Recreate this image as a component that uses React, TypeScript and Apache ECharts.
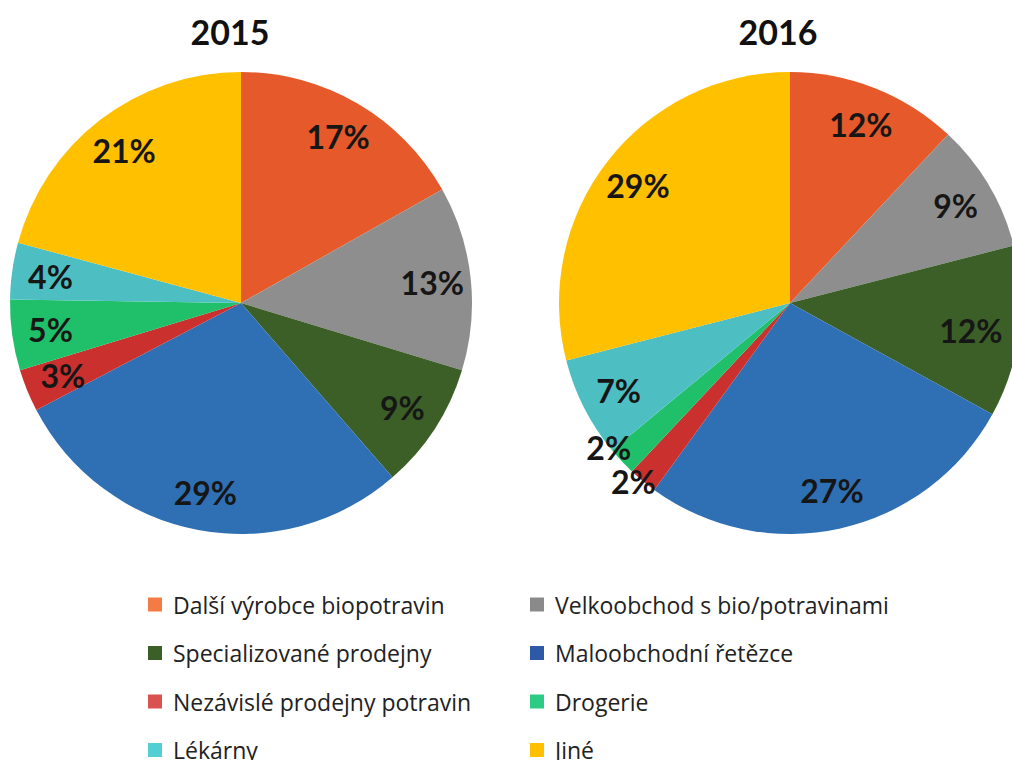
import React, { useEffect, useRef } from "react";
import * as echarts from "echarts";

const categories = [
  "Další výrobce biopotravin",
  "Velkoobchod s bio/potravinami",
  "Specializované prodejny",
  "Maloobchodní řetězce",
  "Nezávislé prodejny potravin",
  "Drogerie",
  "Lékárny",
  "Jiné",
];
const values2015 = [17, 13, 9, 29, 3, 5, 4, 21];
const values2016 = [12, 9, 12, 27, 2, 2, 7, 29];
const sliceColors = ["#E5592A", "#8E8E8E", "#3B5F27", "#2F70B5", "#C9302E", "#20C06A", "#4DBFC3", "#FFC000"];
const legendColors = ["#F47B45", "#8A8A8A", "#3B5F27", "#2E59A6", "#D9524F", "#2DCB83", "#52CFD3", "#FFC000"];
const leftLegendOrder = [0, 2, 4, 6];
const rightLegendOrder = [1, 3, 5, 7];

const R = 231;
const labelFont = { fontFamily: "Lato", fontWeight: "bold" as const, fontSize: 32, color: "#161616" };

function makeSeries(values: number[], center: [number, number], offsets: Record<number, [number, number]>) {
  const wedge = {
    type: "pie",
    center,
    radius: [0, R],
    startAngle: 90,
    clockwise: true,
    silent: true,
    label: { show: false },
    labelLine: { show: false },
    data: values.map((v, i) => ({ name: categories[i], value: v, itemStyle: { color: sliceColors[i] } })),
  };
  const labels = {
    type: "pie",
    center,
    radius: [R * 0.64, R],
    startAngle: 90,
    clockwise: true,
    silent: true,
    avoidLabelOverlap: false,
    labelLayout: { hideOverlap: false },
    itemStyle: { color: "rgba(0,0,0,0)" },
    label: { show: true, position: "inside", formatter: (p: any) => p.value + "%", ...labelFont },
    labelLine: { show: false },
    data: values.map((v, i) => ({
      name: categories[i],
      value: v,
      itemStyle: { color: "rgba(0,0,0,0)" },
      label: offsets[i] ? { offset: offsets[i] } : {},
    })),
  };
  return [wedge, labels];
}

export default function App() {
  const ref = useRef<HTMLDivElement>(null);
  useEffect(() => {
    document.body.style.margin = "0";
    const chart = echarts.init(ref.current!, null, { renderer: "svg" });
    const legendBase = {
      orient: "vertical",
      itemWidth: 14,
      itemHeight: 14,
      itemGap: 25.5,
      padding: 0,
      height: 200,
      icon: "rect",
      selectedMode: false,
      textStyle: { fontFamily: "Open Sans", fontSize: 23, color: "#222", lineHeight: 20, padding: [0, 0, 0, 6] },
    };
    chart.setOption({
      animation: false,
      backgroundColor: "#fff",
      title: [
        { text: "2015", left: 225, top: 9, textAlign: "center", textStyle: { fontFamily: "Lato", fontWeight: "bold", fontSize: 34, color: "#111" } },
        { text: "2016", left: 773, top: 9, textAlign: "center", textStyle: { fontFamily: "Lato", fontWeight: "bold", fontSize: 34, color: "#111" } },
      ],
      legend: [
        {
          ...legendBase,
          left: 148,
          top: 593,
          data: leftLegendOrder.map((i) => ({ name: categories[i], itemStyle: { color: legendColors[i] } })),
        },
        {
          ...legendBase,
          left: 530,
          top: 593,
          data: rightLegendOrder.map((i) => ({ name: categories[i], itemStyle: { color: legendColors[i] } })),
        },
      ],
      series: [
        ...makeSeries(values2015, [241, 303], {}),
        ...makeSeries(values2016, [790, 303], { 2: [-10, 3], 4: [-34, 30], 5: [-41, 13] }),
      ],
    });
    return () => chart.dispose();
  }, []);
  return <div ref={ref} style={{ width: 1012, height: 760 }} />;
}
